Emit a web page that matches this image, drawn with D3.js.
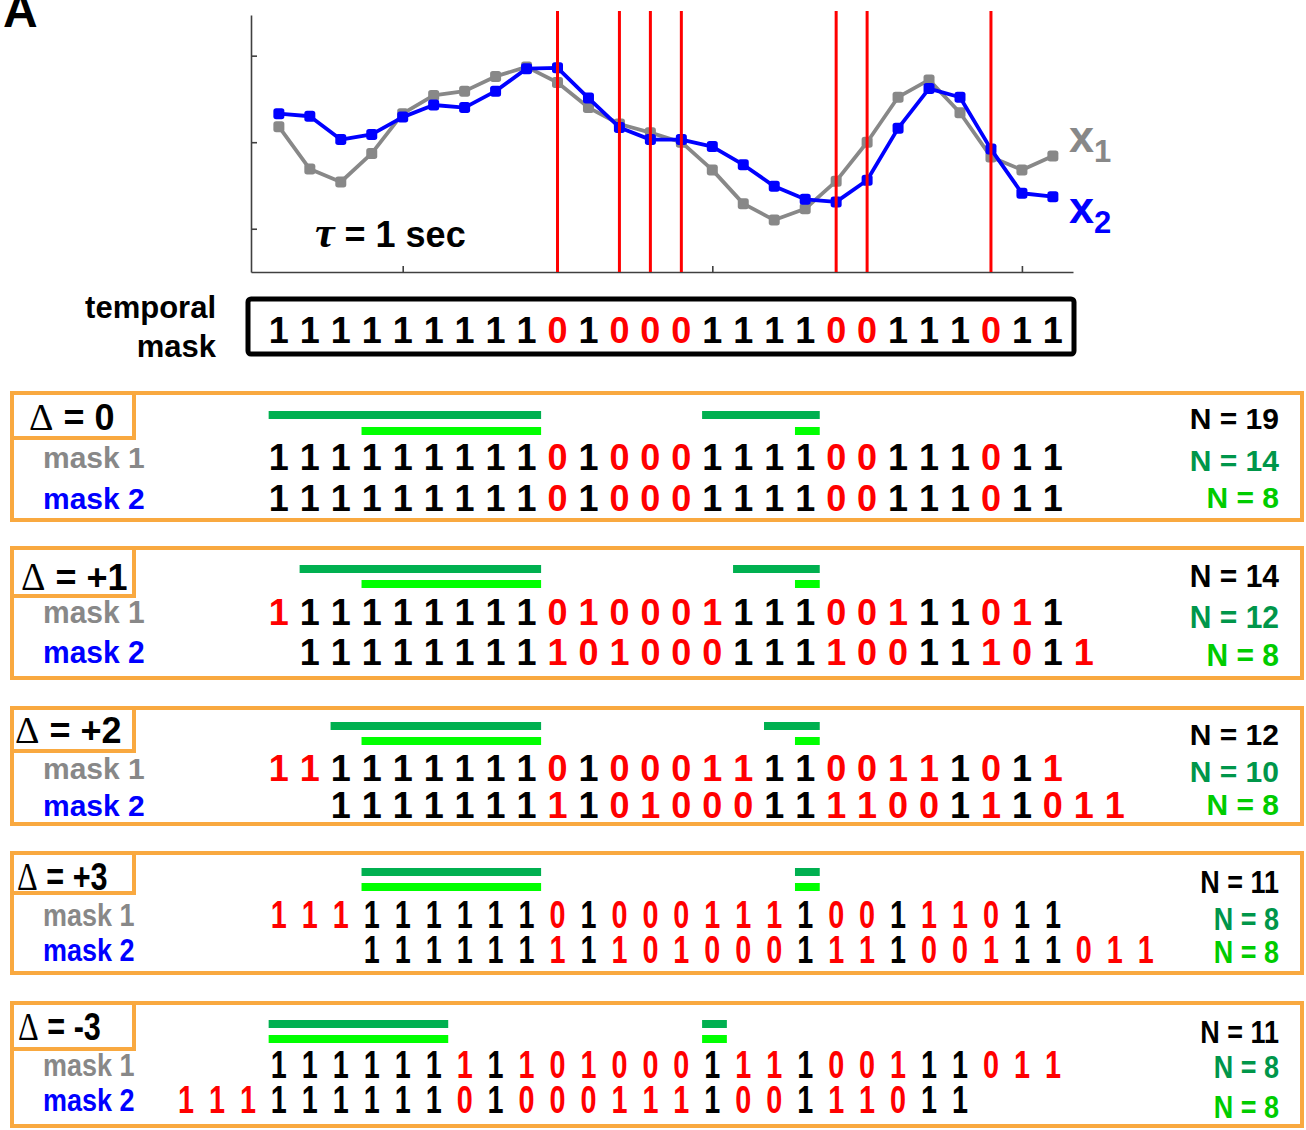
<!DOCTYPE html>
<html><head><meta charset="utf-8">
<script src="https://cdn.jsdelivr.net/npm/d3@7"></script>
<style>body{margin:0;background:#fff} svg{display:block}</style>
</head><body>
<svg id="c" width="1306" height="1130"></svg>
<script>
// ---------- data ----------
const x1Values = [0.18,-0.31,-0.46,-0.13,0.33,0.54,0.59,0.76,0.87,0.69,0.40,0.21,0.11,0.00,-0.32,-0.71,-0.90,-0.77,-0.45,0.00,0.52,0.72,0.34,-0.17,-0.32,-0.16];
const x2Values = [0.33,0.30,0.03,0.09,0.29,0.43,0.40,0.59,0.85,0.86,0.51,0.17,0.03,0.03,-0.05,-0.26,-0.51,-0.66,-0.69,-0.44,0.16,0.62,0.52,-0.08,-0.59,-0.63];
const temporalMask = [1,1,1,1,1,1,1,1,1,0,1,0,0,0,1,1,1,1,0,0,1,1,1,0,1,1];
const xTicks = [4,14,24];
const yTicks = [-1,0,1];
const deltaLabels = ["0","+1","+2","+3","-3"];
const shifts = [0,1,2,3,-3];
const nTotal = [19,14,12,11,11];
const nDark = [14,12,10,8,8];
const nLight = [8,8,8,8,8];
const darkBars = [[[0,8],[14,17]], [[1,8],[15,17]], [[2,8],[16,17]], [[3,8],[17,17]], [[0,5],[14,14]]];
const lightBars = [[[3,8],[17,17]], [[3,8],[17,17]], [[3,8],[17,17]], [[3,8],[17,17]], [[0,5],[14,14]]];

// ---------- style ----------
const SANS = "'Liberation Sans', Arial, sans-serif";
const SERIF = "'Liberation Serif', 'Times New Roman', serif";
const RED = "#FF0000", GREY = "#888888", BLUE = "#0000FF", ORANGE = "#F9A940";
const DKG = "#00B050", LTG = "#00FF00", DKG_T = "#00964A", LTG_T = "#00CC00";

const svg = d3.select("#c");
const x = d3.scaleLinear().domain([-0.9, 25.65]).range([251, 1073]);
const y = d3.scaleLinear().domain([-1.5, 1.47]).range([272, 15]);
const step = x(1) - x(0);

// "A"
svg.append("text").attr("x", 3).attr("y", 27).attr("font-family", SANS).attr("font-weight", "bold")
  .attr("font-size", 48).text("A");

// axes
const gx = svg.append("g").attr("transform", "translate(0,272)")
  .call(d3.axisBottom(x).tickValues(xTicks).tickSize(-6).tickSizeOuter(0).tickFormat(""));
const gy = svg.append("g").attr("transform", "translate(251,0)")
  .call(d3.axisLeft(y).tickValues(yTicks).tickSize(-6).tickSizeOuter(0).tickFormat(""));
[gx, gy].forEach(g => { g.selectAll("path,line").attr("stroke", "#404040").attr("stroke-width", 1.6); });

// series
const line = d3.line().x((d, i) => x(i)).y(d => y(d));
function series(vals, col, r) {
  svg.append("path").datum(vals).attr("d", line).attr("fill", "none").attr("stroke", col)
    .attr("stroke-width", 3.8).attr("stroke-linejoin", "round");
  svg.append("g").selectAll("rect").data(vals).join("rect")
    .attr("x", (d, i) => x(i) - r).attr("y", d => y(d) - r).attr("width", 2 * r).attr("height", 2 * r)
    .attr("rx", r * 0.5).attr("fill", col);
}
series(x1Values, GREY, 5.5);
series(x2Values, BLUE, 5.5);

// red lines at mask zeros
svg.append("g").selectAll("line").data(temporalMask.map((m, i) => ({ m, i })).filter(d => d.m === 0)).join("line")
  .attr("x1", d => x(d.i)).attr("x2", d => x(d.i)).attr("y1", 11).attr("y2", 272)
  .attr("stroke", RED).attr("stroke-width", 3);

// series labels
function seriesLabel(txt, sub, col, yy) {
  const t = svg.append("text").attr("x", 1069).attr("y", yy).attr("font-family", SANS)
    .attr("font-weight", "bold").attr("fill", col);
  t.append("tspan").attr("font-size", 45).text(txt);
  t.append("tspan").attr("font-size", 31).attr("dy", 10).text(sub);
}
seriesLabel("x", "1", GREY, 152);
seriesLabel("x", "2", BLUE, 223);

// tau label
const tau = svg.append("text").attr("x", 315).attr("y", 247).attr("font-weight", "bold");
tau.append("tspan").attr("font-family", SERIF).attr("font-style", "italic").attr("font-size", 44).text("τ");
tau.append("tspan").attr("font-family", SANS).attr("font-size", 36).text(" = 1 sec");

// temporal mask
svg.append("text").attr("x", 216).attr("y", 318).attr("text-anchor", "end").attr("font-family", SANS)
  .attr("font-weight", "bold").attr("font-size", 31).text("temporal");
svg.append("text").attr("x", 216).attr("y", 357).attr("text-anchor", "end").attr("font-family", SANS)
  .attr("font-weight", "bold").attr("font-size", 31).text("mask");
svg.append("rect").attr("x", 248).attr("y", 299).attr("width", 826).attr("height", 55).attr("rx", 3)
  .attr("fill", "none").attr("stroke", "#000").attr("stroke-width", 5);
svg.append("g").selectAll("text").data(temporalMask).join("text")
  .attr("x", (d, i) => x(i)).attr("y", 343).attr("text-anchor", "middle")
  .attr("font-family", SANS).attr("font-weight", "bold").attr("font-size", 36)
  .attr("fill", d => d === 0 ? RED : "#000").text(d => d);

// panels
const layout = [
  { top: 393, bottom: 520, lb: 438, lbl: 430, lx: 29, dy: 411, ly: 427, r1: 470, r2: 511, n1: 429, n2: 471, n3: 508, sx: 1, sy: 1 },
  { top: 548, bottom: 678, lb: 596, lbl: 590, lx: 21, dy: 565, ly: 580, r1: 625, r2: 665, n1: 587, n2: 628, n3: 666, sx: 1, sy: 1.05 },
  { top: 708, bottom: 824, lb: 751, lbl: 743, lx: 15, dy: 722, ly: 737, r1: 781, r2: 818, n1: 745, n2: 782, n3: 815, sx: 1, sy: 1 },
  { top: 853, bottom: 973, lb: 893, lbl: 890, lx: 17, dy: 868, ly: 883, r1: 928, r2: 963, n1: 893, n2: 930, n3: 963, sx: 0.8, sy: 1.06 },
  { top: 1003, bottom: 1126, lb: 1049, lbl: 1040, lx: 18, dy: 1020, ly: 1035, r1: 1078, r2: 1113, n1: 1043, n2: 1078, n3: 1118, sx: 0.8, sy: 1.06 }
];

function maskAt(p) { return (p >= 0 && p < temporalMask.length) ? temporalMask[p] : null; }

shifts.forEach((s, k) => {
  const L = layout[k];
  const g = svg.append("g");
  g.append("rect").attr("x", 12).attr("y", L.top).attr("width", 1290).attr("height", L.bottom - L.top)
    .attr("fill", "none").attr("stroke", ORANGE).attr("stroke-width", 4);
  g.append("rect").attr("x", 12).attr("y", L.top).attr("width", 122).attr("height", L.lb - L.top)
    .attr("fill", "#fff").attr("stroke", ORANGE).attr("stroke-width", 4);
  const dl = g.append("text").attr("transform", `translate(${L.lx},${L.lbl}) scale(${L.sx < 1 ? 0.85 : 1},${L.sy})`)
    .attr("fill", "#000");
  dl.append("tspan").attr("font-family", SERIF).attr("font-size", 38).text("Δ");
  dl.append("tspan").attr("font-family", SANS).attr("font-weight", "bold").attr("font-size", 36).text(" = " + deltaLabels[k]);

  // bars
  const bar = (arr, yy, col) => g.append("g").selectAll("rect").data(arr).join("rect")
    .attr("x", d => x(d[0]) - 0.33 * step).attr("width", d => x(d[1]) - x(d[0]) + 0.8 * step)
    .attr("y", yy).attr("height", 8).attr("fill", col);
  bar(darkBars[k], L.dy, DKG);
  bar(lightBars[k], L.ly, LTG);

  // mask labels
  [["mask 1", GREY, L.r1], ["mask 2", BLUE, L.r2]].forEach(([t, c, yy]) => {
    g.append("text").attr("transform", `translate(43,${yy - 2}) scale(${L.sx < 1 ? 0.9 : 1},${L.sy})`)
      .attr("font-family", SANS).attr("font-weight", "bold").attr("font-size", 30).attr("fill", c).text(t);
  });

  // rows: mask1 at positions 0..25, mask2 shifted by s
  const row1 = temporalMask.map((m, j) => {
    const other = maskAt(j - s);
    return { v: m, p: j, red: !(m === 1 && other === 1) };
  });
  const row2 = temporalMask.map((m, j) => {
    const p = j + s, other = maskAt(p);
    return { v: m, p, red: !(m === 1 && other === 1) };
  });
  [[row1, L.r1], [row2, L.r2]].forEach(([row, yy]) => {
    g.append("g").selectAll("text").data(row).join("text")
      .attr("transform", d => `translate(${x(d.p)},${yy}) scale(${L.sx},${L.sy})`)
      .attr("text-anchor", "middle").attr("font-family", SANS).attr("font-weight", "bold")
      .attr("font-size", 36).attr("fill", d => d.red ? RED : "#000").text(d => d.v);
  });

  // N labels
  [["N = " + nTotal[k], "#000", L.n1], ["N = " + nDark[k], DKG_T, L.n2], ["N = " + nLight[k], LTG_T, L.n3]].forEach(([t, c, yy]) => {
    g.append("text").attr("transform", `translate(1279,${yy}) scale(${L.sx < 1 ? 0.9 : 1},${L.sy})`)
      .attr("text-anchor", "end").attr("font-family", SANS).attr("font-weight", "bold")
      .attr("font-size", 30).attr("fill", c).text(t);
  });
});
</script>
</body></html>
